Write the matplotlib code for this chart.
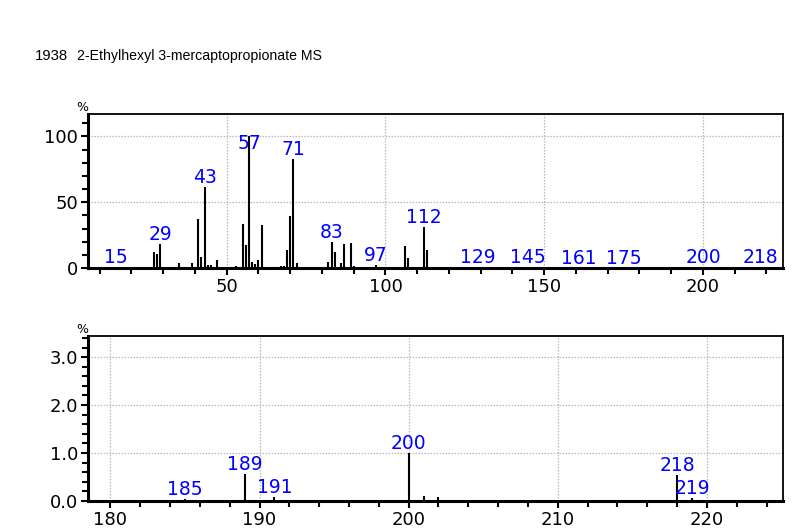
import numpy as np
import matplotlib
matplotlib.use('Agg')
from matplotlib import pyplot as plt
from matplotlib.ticker import MultipleLocator

# m/z und relative Intensitaet (%)
mz = [15, 27, 28, 29, 31, 35, 39, 40, 41, 42, 43, 44, 45, 47,
      53, 54, 55, 56, 57, 58, 59, 60, 61, 63, 67, 68, 69, 70, 71, 72, 73,
      82, 83, 84, 85, 86, 87, 89, 90, 97, 105, 106, 107, 111, 112, 113, 114,
      129, 145, 161, 175, 185, 189, 191, 200, 201, 202, 218, 219]
inten = [0.6, 12.0, 11.0, 18.6, 1.0, 4.0, 4.0, 1.0, 37.5, 8.6, 61.8, 2.5, 2.5, 6.0,
         1.8, 1.0, 33.7, 17.3, 100.0, 4.8, 3.3, 6.0, 32.4, 1.0, 1.2, 1.5, 14.0, 39.5, 82.8, 3.5, 1.0,
         4.8, 19.8, 12.3, 1.0, 3.8, 18.0, 18.8, 1.5, 2.0, 1.0, 16.6, 7.3, 1.0, 31.0, 14.0, 1.0,
         0.6, 0.4, 0.3, 0.3, 0.05, 0.56, 0.09, 1.0, 0.11, 0.08, 0.55, 0.07]

top_labels = [15, 29, 43, 57, 71, 83, 97, 112, 129, 145, 161, 175, 200, 218]
zoom_labels = [185, 189, 191, 200, 218, 219]

title_no = '1938'
title = '2-Ethylhexyl 3-mercaptopropionate MS'

plt.rcParams['font.family'] = ['DejaVu Sans']
fig = plt.figure(figsize=(8, 5.3), dpi=100)

fig.text(35 / 800, 1 - 56 / 530, title_no, fontsize=10.7, family='Liberation Sans', va='center')
fig.text(77 / 800, 1 - 56 / 530, title, fontsize=10.2, family='Liberation Sans', va='center')


def style_axis(ax, xlim, ylim, xmaj, xmin, ymaj, ymin, yfmt):
    ax.set_xlim(*xlim)
    ax.set_ylim(*ylim)
    ax.xaxis.set_major_locator(MultipleLocator(xmaj))
    ax.xaxis.set_minor_locator(MultipleLocator(xmin))
    ax.yaxis.set_major_locator(MultipleLocator(ymaj))
    ax.yaxis.set_minor_locator(MultipleLocator(ymin))
    ax.yaxis.set_major_formatter(yfmt)
    ax.grid(True, which='major', color='#b8b8b8', linestyle=(0, (1.2, 1.2)), linewidth=0.9)
    ax.set_axisbelow(True)
    for s in ['left', 'bottom']:
        ax.spines[s].set_linewidth(2.2)
    for s in ['top', 'right']:
        ax.spines[s].set_linewidth(1.3)
    ax.tick_params(which='major', direction='out', length=5, width=1.5, labelsize=13, pad=2)
    ax.tick_params(which='minor', direction='out', length=4, width=1.5)


def draw_peaks(ax, labels, lo, hi, cap):
    for m, h in zip(mz, inten):
        if lo <= m <= hi:
            ax.vlines(m, 0, h, color='black', linewidth=1.5)
            if m in labels:
                # Beschriftung nicht hoeher als cap
                ax.annotate(str(m), (m, min(h, cap)), xytext=(0, 0), textcoords='offset points',
                            ha='center', va='bottom', color='#0000ff', fontsize=13.5)


ax1 = fig.add_axes([88 / 800, 1 - 268 / 530, 695 / 800, 154 / 530])
style_axis(ax1, (6.3, 225.2), (0, 117), 50, 10, 50, 10, '{x:.0f}')
draw_peaks(ax1, top_labels, 0, 230, 87)
ax1.text(-0.008, 1.0, '%', transform=ax1.transAxes, fontsize=9, ha='center', va='bottom')

ax2 = fig.add_axes([88 / 800, 1 - 501 / 530, 695 / 800, 165 / 530])
style_axis(ax2, (178.5, 225.1), (0, 3.44), 10, 2, 1, 0.2, '{x:.1f}')
draw_peaks(ax2, zoom_labels, 178, 226, 3.0)
ax2.text(-0.008, 1.0, '%', transform=ax2.transAxes, fontsize=9, ha='center', va='bottom')

plt.savefig('out.png', dpi=100)
